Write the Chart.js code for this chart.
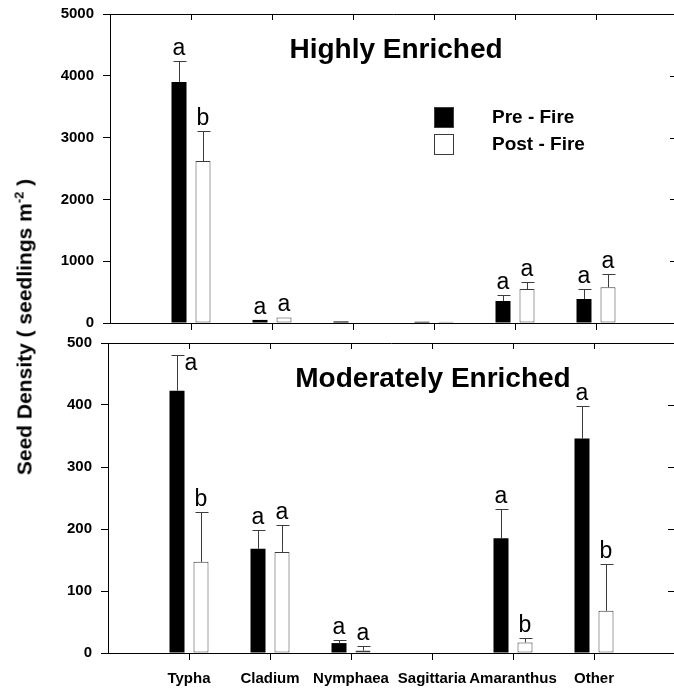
<!DOCTYPE html>
<html>
<head>
<meta charset="utf-8">
<script src="https://cdn.jsdelivr.net/npm/chart.js@4"></script>
<style>
  body { margin: 0; background: #fff; width: 674px; height: 690px; overflow: hidden; position: relative;
         font-family: Arial, "Liberation Sans", sans-serif; }
  canvas { position: absolute; left: 0; }
  #top { top: 0; }
  #bot { top: 335px; }
  #ytitle { position: absolute; left: 24px; top: 327px; transform: translate(-50%, -50%) rotate(-90deg);
            white-space: nowrap; font-weight: bold; font-size: 21px; line-height: 21px; }
  #ytitle sup { font-size: 13px; line-height: 0; }
</style>
</head>
<body>
<canvas id="top" width="690" height="335"></canvas>
<canvas id="bot" width="690" height="355"></canvas>
<div id="ytitle">Seed Density ( seedlings m<sup>-2</sup> )</div>
<script>
// Seed density by taxon, pre vs post fire, two enrichment levels.
const categories = ["Typha", "Cladium", "Nymphaea", "Sagittaria", "Amaranthus", "Other"];

const highPre      = [3900, 50, 25, 20, 356, 388];
const highPreErr   = [335, 0, 0, 0, 97, 162];
const highPost     = [2621, 90, 0, 20, 550, 578];
const highPostErr  = [486, 0, 0, 0, 118, 215];
const highPreTags  = ["a", "a", "", "", "a", "a"];
const highPostTags = ["b", "a", "", "", "a", "a"];

const modPre      = [423, 168, 16, 0, 185, 346];
const modPreErr   = [58, 31, 5, 0, 47, 52];
const modPost     = [147, 163, 4, 0, 17, 68];
const modPostErr  = [81, 44, 7, 0, 7, 75];
const modPreTags  = ["a", "a", "a", "", "a", "a"];
const modPostTags = ["b", "a", "a", "", "b", "b"];

const yTicksHigh = [0, 1000, 2000, 3000, 4000, 5000];
const yTicksMod  = [0, 100, 200, 300, 400, 500];
const seriesNames = ["Pre - Fire", "Post - Fire"];

const FONT = 'Arial, "Liberation Sans", sans-serif';
const EDGE = "#3c3c3c";
const SLOT = 81; // px per category slot

// pad with an empty slot on each side so the axis runs one slot past the ends
const pad = arr => [null, ...arr, null];

const panelExtras = {
  id: "panelExtras",
  afterDatasetsDraw(chart, args, opts) {
    const { ctx, chartArea: a, scales: { x, y } } = chart;
    ctx.save();
    ctx.strokeStyle = "#000";
    ctx.lineWidth = 1;
    ctx.beginPath();
    // top frame + right frame with inward ticks, bottom outward ticks
    ctx.moveTo(a.left, a.top + 0.5); ctx.lineTo(a.right, a.top + 0.5);
    ctx.moveTo(a.right - 0.5, a.top); ctx.lineTo(a.right - 0.5, a.bottom);
    categories.forEach((c, i) => {
      const px = Math.round(x.getPixelForValue(i + 1)) + 0.5;
      ctx.moveTo(px, a.top); ctx.lineTo(px, a.top + 6);
      ctx.moveTo(px, a.bottom); ctx.lineTo(px, a.bottom + 7);
    });
    y.ticks.forEach(t => {
      const py = Math.round(y.getPixelForValue(t.value)) + 0.5;
      ctx.moveTo(a.right, py); ctx.lineTo(a.right - 7, py);
    });
    ctx.stroke();

    // error bars (upper half) and significance letters
    ctx.strokeStyle = EDGE;
    chart.data.datasets.forEach((ds, d) => {
      const meta = chart.getDatasetMeta(d);
      const errs = pad(opts.errors[d]);
      const tags = pad(opts.tags[d]);
      meta.data.forEach((bar, j) => {
        const v = ds.data[j];
        if (v == null) return;
        const e = errs[j] || 0;
        const bx = Math.round(bar.x) + 0.5;
        const yTop = y.getPixelForValue(v + e);
        if (e > 0) {
          ctx.beginPath();
          ctx.moveTo(bx, y.getPixelForValue(v));
          ctx.lineTo(bx, Math.round(yTop) + 0.5);
          ctx.moveTo(bx - 6, Math.round(yTop) + 0.5);
          ctx.lineTo(bx + 7, Math.round(yTop) + 0.5);
          ctx.stroke();
        }
        const tag = tags[j];
        if (!tag) return;
        ctx.fillStyle = "#000";
        ctx.font = "23px " + FONT;
        ctx.textBaseline = "alphabetic";
        if (yTop - 6 - 17 < a.top) {
          ctx.textAlign = "left";
          ctx.fillText(tag, bx + 7, yTop + 15);
        } else {
          ctx.textAlign = "center";
          ctx.fillText(tag, bar.x, yTop - 6);
        }
      });
    });

    // panel title
    ctx.fillStyle = "#000";
    ctx.font = "bold 28px " + FONT;
    ctx.textAlign = "center";
    ctx.textBaseline = "alphabetic";
    ctx.fillText(opts.title, opts.titleX, opts.titleY);

    // legend
    if (opts.legend) {
      const rows = [{ fill: "#000", top: 107 }, { fill: "#fff", top: 134 }];
      ctx.font = "bold 19px " + FONT;
      ctx.textAlign = "left";
      ctx.textBaseline = "middle";
      rows.forEach((r, i) => {
        ctx.fillStyle = r.fill;
        ctx.fillRect(434, r.top, 20, 21);
        ctx.strokeStyle = EDGE;
        ctx.strokeRect(434.5, r.top + 0.5, 19, 20);
        ctx.fillStyle = "#000";
        ctx.fillText(seriesNames[i], 492, r.top + 11);
      });
    }
    ctx.restore();
  }
};

function makePanel(id, cfg) {
  const left = cfg.left;
  const right = left + SLOT * 7;
  return new Chart(document.getElementById(id), {
    type: "bar",
    data: {
      labels: pad(categories).map(c => c || ""),
      datasets: [
        { label: seriesNames[0], data: pad(cfg.pre), backgroundColor: "#000", borderWidth: 0 },
        { label: seriesNames[1], data: pad(cfg.post), backgroundColor: "#fff",
          borderColor: EDGE, borderWidth: 1, borderSkipped: false }
      ]
    },
    options: {
      responsive: false,
      animation: false,
      devicePixelRatio: 1,
      categoryPercentage: 48 / SLOT,
      barPercentage: 15 / 24,
      layout: { padding: { top: cfg.padTop, right: 690 - right, left: 0, bottom: 0 } },
      plugins: {
        legend: { display: false },
        tooltip: { enabled: false },
        panelExtras: cfg.extras
      },
      scales: {
        x: {
          offset: false,
          grid: { display: false },
          border: { display: true, color: "#000", width: 1 },
          ticks: {
            display: cfg.showLabels, autoSkip: false, maxRotation: 0, padding: 9,
            color: "#000", font: { family: FONT, size: 15, weight: "bold" }
          },
          afterFit: s => { s.height = cfg.xHeight; s.paddingLeft = 0; s.paddingRight = 0; }
        },
        y: {
          min: 0, max: cfg.yTicks[cfg.yTicks.length - 1],
          afterBuildTicks: s => { s.ticks = cfg.yTicks.map(v => ({ value: v })); },
          grid: { drawOnChartArea: false, tickLength: 7, color: "#000" },
          border: { display: true, color: "#000", width: 1 },
          ticks: { padding: 9, color: "#000", font: { family: FONT, size: 15, weight: "bold" },
                   callback: v => String(v) },
          afterFit: s => { s.width = left; s.paddingTop = 0; s.paddingBottom = 0; }
        }
      }
    },
    plugins: [panelExtras]
  });
}

makePanel("top", {
  left: 110, padTop: 14, xHeight: 12, showLabels: false,
  pre: highPre, post: highPost, yTicks: yTicksHigh,
  extras: { errors: [highPreErr, highPostErr], tags: [highPreTags, highPostTags],
            title: "Highly Enriched", titleX: 396, titleY: 58, legend: true }
});

makePanel("bot", {
  left: 108, padTop: 8, xHeight: 37, showLabels: true,
  pre: modPre, post: modPost, yTicks: yTicksMod,
  extras: { errors: [modPreErr, modPostErr], tags: [modPreTags, modPostTags],
            title: "Moderately Enriched", titleX: 433, titleY: 52, legend: false }
});
</script>
</body>
</html>
